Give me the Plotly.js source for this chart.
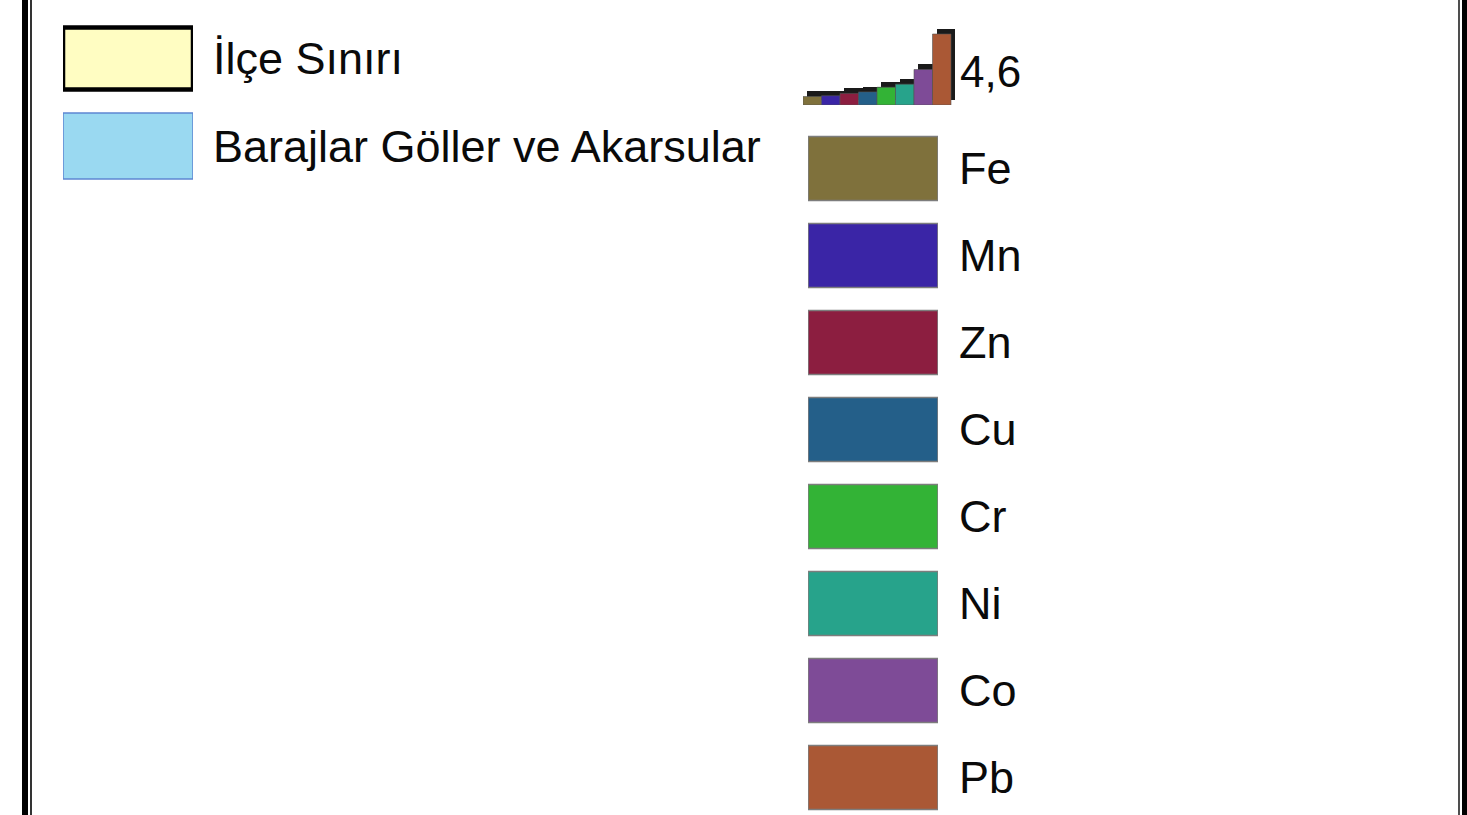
<!DOCTYPE html>
<html>
<head>
<meta charset="utf-8">
<script src="https://cdn.plot.ly/plotly-3.0.1.min.js"></script>
<style>html,body{margin:0;padding:0;background:#fff;}#chart{width:1467px;height:815px;}</style>
</head>
<body>
<div id="chart"></div>
<script>
// ---- data ----
const layerNames = ['İlçe Sınırı', 'Barajlar Göller ve Akarsular'];
const layerFill = ['#FFFDC2', '#9AD9F1'];
const layerLine = ['#000000', '#5E86D2'];

const elements = ['Fe', 'Mn', 'Zn', 'Cu', 'Cr', 'Ni', 'Co', 'Pb'];
const elementColors = ['#7F713C', '#3A25A6', '#8C1E40', '#245F89', '#33B336', '#27A38B', '#7E4B97', '#AA5835'];
const elementValues = [0.55, 0.6, 0.75, 0.85, 1.15, 1.35, 2.3, 4.6];
const maxLabel = '4,6';

// ---- layout helpers ----
const W = 1467, H = 815;
const px = v => v / W;
const py = v => 1 - v / H;
const FONT = 'Liberation Sans, Arial, sans-serif';
const TXT = '#0a0a0a';
const FS = 45;
const BARW = 18.5; // px per category in the mini chart

const traces = [
  // top legend swatches
  {
    type: 'bar', orientation: 'h', xaxis: 'x', yaxis: 'y',
    y: layerNames, x: layerNames.map(() => 1), base: 0,
    width: [62 / 87.5, 66 / 87.5],
    marker: { color: layerFill, line: { color: layerLine, width: [4.5, 1.5] } },
    hoverinfo: 'skip'
  },
  // mini bar chart shadow (3D look)
  {
    type: 'bar', xaxis: 'x3', yaxis: 'y3',
    x: elements, y: elementValues, base: 0.33,
    width: 1, offset: -0.28,
    marker: { color: '#1a1a1a', line: { width: 0 } },
    hoverinfo: 'skip'
  },
  // mini bar chart front
  {
    type: 'bar', xaxis: 'x3', yaxis: 'y3',
    x: elements, y: elementValues, base: 0,
    width: 1, offset: -0.5,
    marker: { color: elementColors, line: { color: '#555', width: 0.6 } },
    hoverinfo: 'skip'
  },
  // element legend swatches
  {
    type: 'bar', orientation: 'h', xaxis: 'x4', yaxis: 'y4',
    y: elements, x: elements.map(() => 1), base: 0,
    width: 64 / 87,
    marker: { color: elementColors, line: { color: '#7d7d7d', width: 1.5 } },
    hoverinfo: 'skip'
  }
];

const hidden = { showgrid: false, zeroline: false, showline: false, showticklabels: false, ticks: '', fixedrange: true };

const layout = {
  width: W, height: H,
  margin: { l: 0, r: 0, t: 0, b: 0, pad: 0 },
  paper_bgcolor: '#ffffff', plot_bgcolor: 'rgba(0,0,0,0)',
  showlegend: false,
  barmode: 'overlay', bargap: 0,
  font: { family: FONT, color: TXT, size: FS },
  xaxis: Object.assign({}, hidden, { domain: [px(63), px(193)], range: [0, 1], anchor: 'y' }),
  yaxis: Object.assign({}, hidden, {
    domain: [py(200), 1], anchor: 'x', type: 'category',
    categoryorder: 'array', categoryarray: layerNames,
    range: [(200 - 58.5) / 87.5, -58.5 / 87.5],
    side: 'right', showticklabels: true, ticklabelstandoff: 19,
    tickfont: { family: FONT, color: TXT, size: FS }
  }),
  xaxis3: Object.assign({}, hidden, {
    domain: [px(803), px(803 + 8.3 * BARW)], anchor: 'y3', type: 'category',
    categoryorder: 'array', categoryarray: elements, range: [-0.5, 7.8]
  }),
  yaxis3: Object.assign({}, hidden, { domain: [py(105), py(28)], anchor: 'x3', range: [0, 4.6 * 77 / 71] }),
  xaxis4: Object.assign({}, hidden, { domain: [px(808), px(938)], range: [0, 1], anchor: 'y4' }),
  yaxis4: Object.assign({}, hidden, {
    domain: [0, py(125)], anchor: 'x4', type: 'category',
    categoryorder: 'array', categoryarray: elements,
    range: [(815 - 168.5) / 87, -0.5],
    side: 'right', showticklabels: true, ticklabelstandoff: 20,
    tickfont: { family: FONT, color: TXT, size: FS }
  }),
  annotations: [{
    xref: 'x3', yref: 'y3', x: elements[elements.length - 1],
    y: Math.max(...elementValues) / 2,
    text: maxLabel, showarrow: false, xanchor: 'left', yanchor: 'middle',
    xshift: 16, yshift: -2,
    font: { family: FONT, color: TXT, size: 44 }
  }],
  shapes: [
    { type: 'line', xref: 'paper', yref: 'paper', x0: px(25), x1: px(25), y0: -0.02, y1: 1.02, line: { color: '#000', width: 6 } },
    { type: 'line', xref: 'paper', yref: 'paper', x0: px(31), x1: px(31), y0: -0.02, y1: 1.02, line: { color: '#000', width: 1.6 } },
    { type: 'line', xref: 'paper', yref: 'paper', x0: px(1459), x1: px(1459), y0: -0.02, y1: 1.02, line: { color: '#222', width: 1.6 } },
    { type: 'line', xref: 'paper', yref: 'paper', x0: px(1465), x1: px(1465), y0: -0.02, y1: 1.02, line: { color: '#000', width: 6 } }
  ]
};

Plotly.newPlot('chart', traces, layout, { staticPlot: true, displayModeBar: false });
</script>
</body>
</html>
